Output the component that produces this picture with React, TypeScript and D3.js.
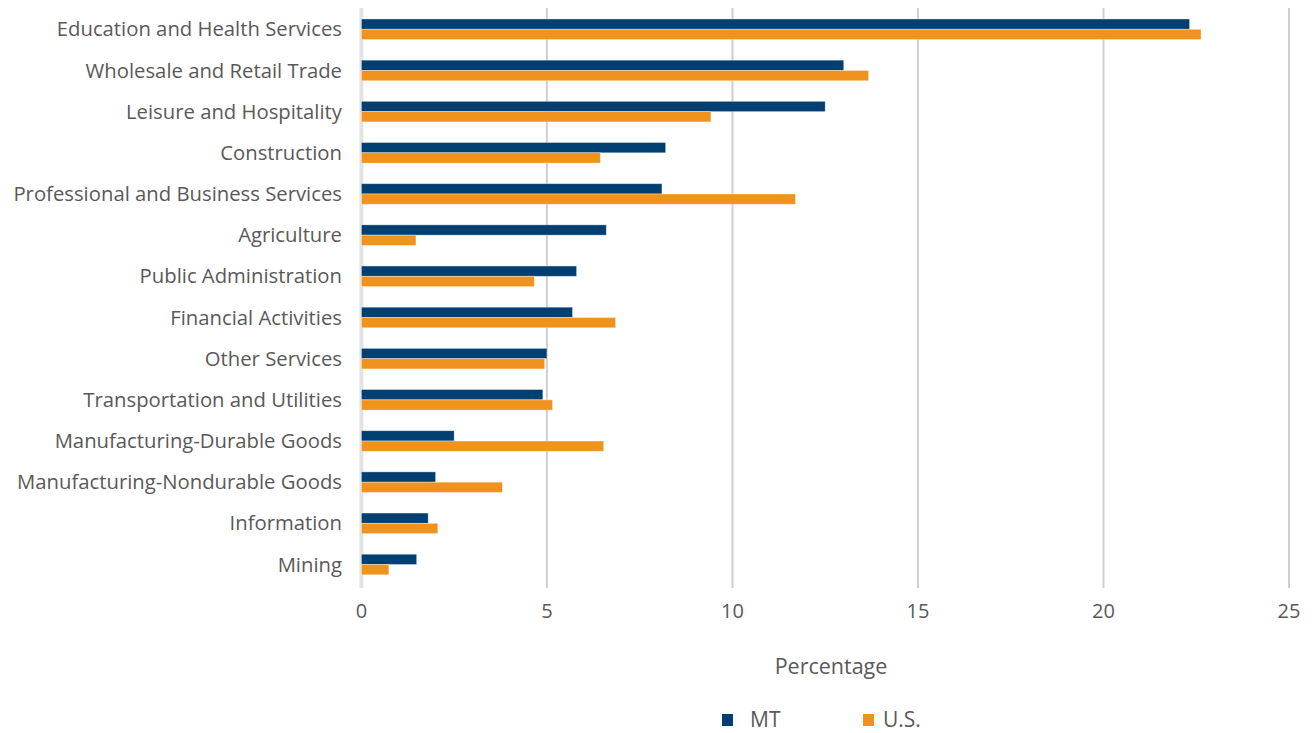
import React from "react";
import * as d3 from "d3";

const categories = [
  "Education and Health Services",
  "Wholesale and Retail Trade",
  "Leisure and Hospitality",
  "Construction",
  "Professional and Business Services",
  "Agriculture",
  "Public Administration",
  "Financial Activities",
  "Other Services",
  "Transportation and Utilities",
  "Manufacturing-Durable Goods",
  "Manufacturing-Nondurable Goods",
  "Information",
  "Mining",
];
const mtValues = [22.32, 13.0, 12.5, 8.2, 8.1, 6.6, 5.8, 5.69, 5.0, 4.89, 2.5, 2.0, 1.8, 1.49];
const usValues = [22.63, 13.67, 9.42, 6.44, 11.7, 1.47, 4.66, 6.85, 4.94, 5.15, 6.53, 3.8, 2.06, 0.74];
const xTicks = [0, 5, 10, 15, 20, 25];
const seriesNames = ["MT", "U.S."];
const seriesColors = ["#003f72", "#f0931e"];

const W = 1316;
const H = 733;
const FONT = "'Open Sans', 'Liberation Sans', sans-serif";
const TEXT = "#595959";

export default function App() {
  const x = d3.scaleLinear().domain([0, 25]).range([361.4, 1289]);
  const y = d3
    .scaleBand<string>()
    .domain(categories)
    .range([8.7, 585.1])
    .paddingInner(0.5)
    .paddingOuter(0.25);
  const y1 = d3.scaleBand<string>().domain(seriesNames).range([0, y.bandwidth()]);
  const series = [mtValues, usValues];

  return (
    <svg
      width={W}
      height={H}
      style={{ position: "absolute", left: 0, top: 0, background: "#fff" }}
      fontFamily={FONT}
    >
      {xTicks.map((t) => (
        <line
          key={"g" + t}
          x1={x(t)}
          x2={x(t)}
          y1={8}
          y2={588}
          stroke={t === 0 ? "#e3e3e3" : "#cfcfcf"}
          strokeWidth={t === 0 ? 4 : 2}
        />
      ))}
      {categories.map((c, i) => (
        <g key={c} transform={`translate(0,${y(c)})`}>
          {series.map((vals, s) => (
            <rect
              key={s}
              x={x(0)}
              y={y1(seriesNames[s])}
              width={x(vals[i]) - x(0)}
              height={y1.bandwidth()}
              fill={seriesColors[s]}
              stroke="#ffffff"
              strokeOpacity={0.45}
              strokeWidth={0.8}
            />
          ))}
          <text
            x={342}
            y={y.bandwidth() / 2}
            dy="0.35em"
            textAnchor="end"
            fontSize={20.3}
            fill={TEXT}
          >
            {c}
          </text>
        </g>
      ))}
      {xTicks.map((t) => (
        <text
          key={"t" + t}
          x={x(t)}
          y={611}
          dy="0.35em"
          textAnchor="middle"
          fontSize={20}
          fill={TEXT}
        >
          {t}
        </text>
      ))}
      <text x={831} y={666} dy="0.35em" textAnchor="middle" fontSize={21.5} fill={TEXT}>
        Percentage
      </text>
      {seriesNames.map((n, s) => (
        <g key={n} transform={`translate(${s === 0 ? 722 : 863},714)`}>
          <rect width={11} height={12} fill={seriesColors[s]} />
          <text x={s === 0 ? 28 : 20} y={6} dy="0.35em" fontSize={21} fill={TEXT}>
            {n}
          </text>
        </g>
      ))}
    </svg>
  );
}
